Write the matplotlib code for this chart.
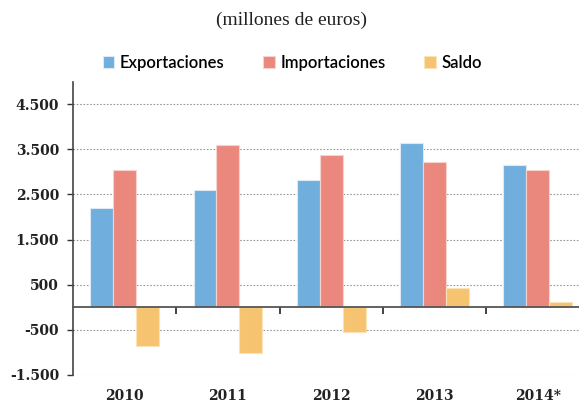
import numpy as np
import matplotlib.pyplot as plt
from matplotlib.ticker import FuncFormatter, FixedLocator

# Datos (millones de euros)
anios = ['2010', '2011', '2012', '2013', '2014*']
exportaciones = [2200, 2590, 2815, 3640, 3160]
importaciones = [3050, 3600, 3370, 3220, 3035]
saldo = [-850, -1005, -555, 420, 120]
yticks = [-1500, -500, 500, 1500, 2500, 3500, 4500]

azul = '#70AEDD'
rojo = '#EB887E'
amarillo = '#F6C471'

fig = plt.figure(figsize=(5.79, 4.03), dpi=100)
ax = fig.add_axes([73/579, 1 - 375/403, (579 - 73)/579, (375 - 82)/403])

x = np.arange(len(anios))
w = 0.222
ax.bar(x - w, exportaciones, w, color=azul, edgecolor='#DDEAF5', linewidth=0.8, label='Exportaciones', zorder=3)
ax.bar(x, importaciones, w, color=rojo, edgecolor='#F6D3CF', linewidth=0.8, label='Importaciones', zorder=3)
ax.bar(x + w, saldo, w, color=amarillo, edgecolor='#FBE3B8', linewidth=0.8, label='Saldo', zorder=3)

ax.set_xlim(-0.5, 4.4)
ax.set_ylim(-1500, 4990)

# Eje y
ax.set_yticks(yticks)
ax.yaxis.set_major_formatter(FuncFormatter(lambda v, p: f'{int(v):,}'.replace(',', '.')))
ax.tick_params(axis='y', length=4, width=1, color='#333333', pad=6)
for lab in ax.get_yticklabels():
    lab.set_fontfamily('DejaVu Serif')
    lab.set_fontweight('bold')
    lab.set_fontsize(10)
    lab.set_color('#222222')
ax.grid(axis='y', linestyle=(0, (1.5, 1.5)), color='#999999', linewidth=0.8, zorder=0)

# Eje x en el cero
ax.spines['bottom'].set_position(('data', 0))
ax.spines['bottom'].set_color('#555555')
ax.spines['bottom'].set_linewidth(1.3)
ax.spines['bottom'].set_zorder(4)
ax.spines['left'].set_color('#444444')
ax.spines['left'].set_linewidth(1.2)
ax.spines['top'].set_visible(False)
ax.spines['right'].set_visible(False)

ax.set_xticks(x)
ax.set_xticklabels(anios, fontfamily='DejaVu Serif', fontweight='bold', fontsize=10, color='#222222')
ax.tick_params(axis='x', which='major', length=0, pad=59)
ax.xaxis.set_minor_locator(FixedLocator(x[:-1] + 0.5))
ax.tick_params(axis='x', which='minor', length=5, width=1.2, color='#222222', direction='out')

fig.text(0.503, 0.95, '(millones de euros)', ha='center', va='center',
         fontfamily='Liberation Serif', fontsize=14, color='#222222')

fig.legend(loc='center', bbox_to_anchor=(0.505, 1 - 63/403), ncol=3, frameon=False,
           handlelength=0.7, handleheight=0.7, handletextpad=0.35, columnspacing=2.3,
           prop={'family': 'Lato', 'size': 12, 'weight': 'semibold'})

fig.savefig('out.png', dpi=100)
